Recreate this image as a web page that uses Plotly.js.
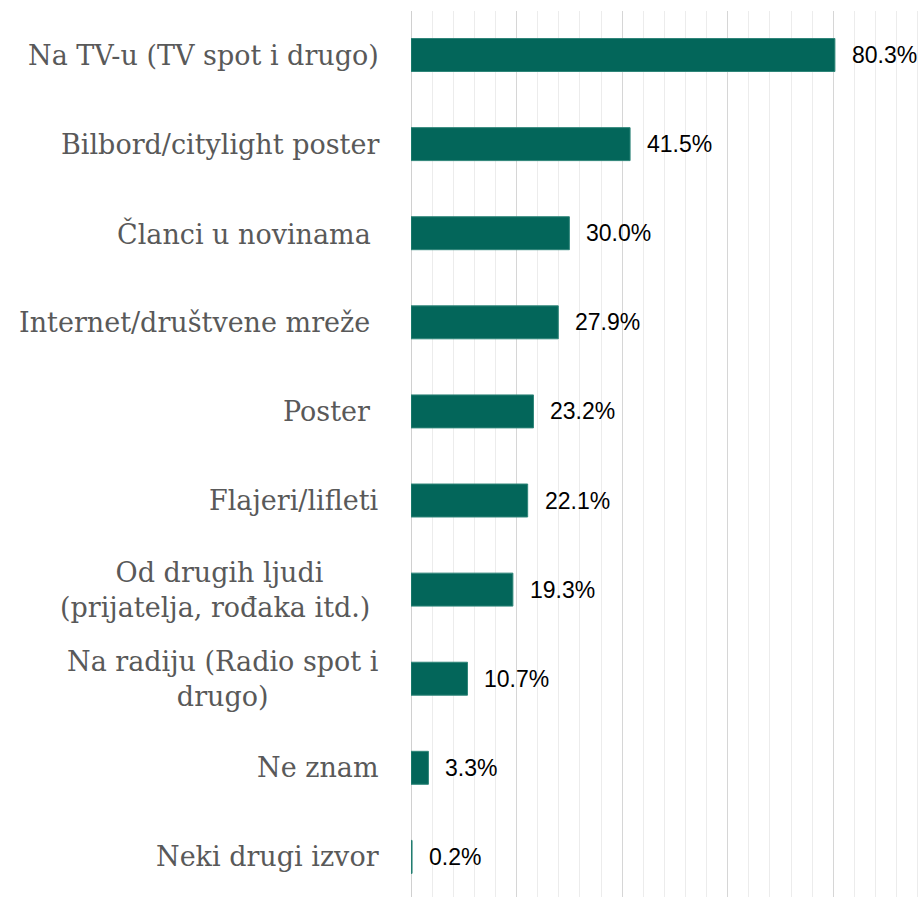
<!DOCTYPE html>
<html>
<head>
<meta charset="utf-8">
<script src="https://cdn.plot.ly/plotly-3.0.1.min.js"></script>
<style>
  html, body { margin: 0; padding: 0; background: #ffffff; overflow: hidden; }
  #chart { width: 922px; height: 897px; }
</style>
</head>
<body>
<div id="chart"></div>
<script>
// Categories, top to bottom as shown
const categories = [
  "Na TV-u (TV spot i drugo)",
  "Bilbord/citylight poster",
  "Članci u novinama\u00a0",
  "Internet/društvene mreže\u00a0",
  "Poster\u00a0",
  "Flajeri/lifleti",
  "Od drugih ljudi<br>(prijatelja, rođaka itd.)\u00a0",
  "Na radiju (Radio spot i<br>drugo)",
  "Ne znam",
  "Neki drugi izvor"
];
// Percent values
const values = [80.3, 41.5, 30.0, 27.9, 23.2, 22.1, 19.3, 10.7, 3.3, 0.2];
const valueLabels = values.map(v => v.toFixed(1) + "%");

const idx = categories.map((c, i) => i);

const trace = {
  type: "bar",
  orientation: "h",
  y: idx,
  x: values,
  width: 0.37,
  marker: { color: "#03665A", line: { color: "#2f8579", width: 1 } },
  hoverinfo: "skip"
};

const annotations = [];
categories.forEach((c, i) => {
  annotations.push({
    xref: "paper", yref: "y", x: 0, y: i,
    xanchor: "right", yanchor: "middle",
    xshift: -30,
    text: c, showarrow: false, align: "center",
    font: { family: "DejaVu Serif, serif", size: 27, color: "#595959" }
  });
  annotations.push({
    xref: "x", yref: "y", x: values[i], y: i,
    xanchor: "left", yanchor: "middle",
    xshift: 15,
    text: valueLabels[i], showarrow: false,
    font: { family: "Liberation Sans, Arial, sans-serif", size: 23, color: "#000000" }
  });
});

const layout = {
  width: 922, height: 897,
  margin: { l: 411, r: 0, t: 11, b: 0, pad: 0 },
  paper_bgcolor: "#ffffff",
  plot_bgcolor: "rgba(0,0,0,0)",
  showlegend: false,
  xaxis: {
    range: [0, 96.8],
    tick0: 0, dtick: 20,
    showgrid: true, gridcolor: "#d6d6d6", gridwidth: 1,
    minor: { dtick: 4, showgrid: true, gridcolor: "#ececec", gridwidth: 1 },
    zeroline: true, zerolinecolor: "#d0d0d0", zerolinewidth: 1,
    showticklabels: false, ticks: "", showline: false, fixedrange: true
  },
  yaxis: {
    range: [9.45, -0.494],
    showticklabels: false, showgrid: false, zeroline: false,
    ticks: "", showline: false, fixedrange: true
  },
  annotations: annotations
};

Plotly.newPlot("chart", [trace], layout, { displayModeBar: false, staticPlot: true });
</script>
</body>
</html>
